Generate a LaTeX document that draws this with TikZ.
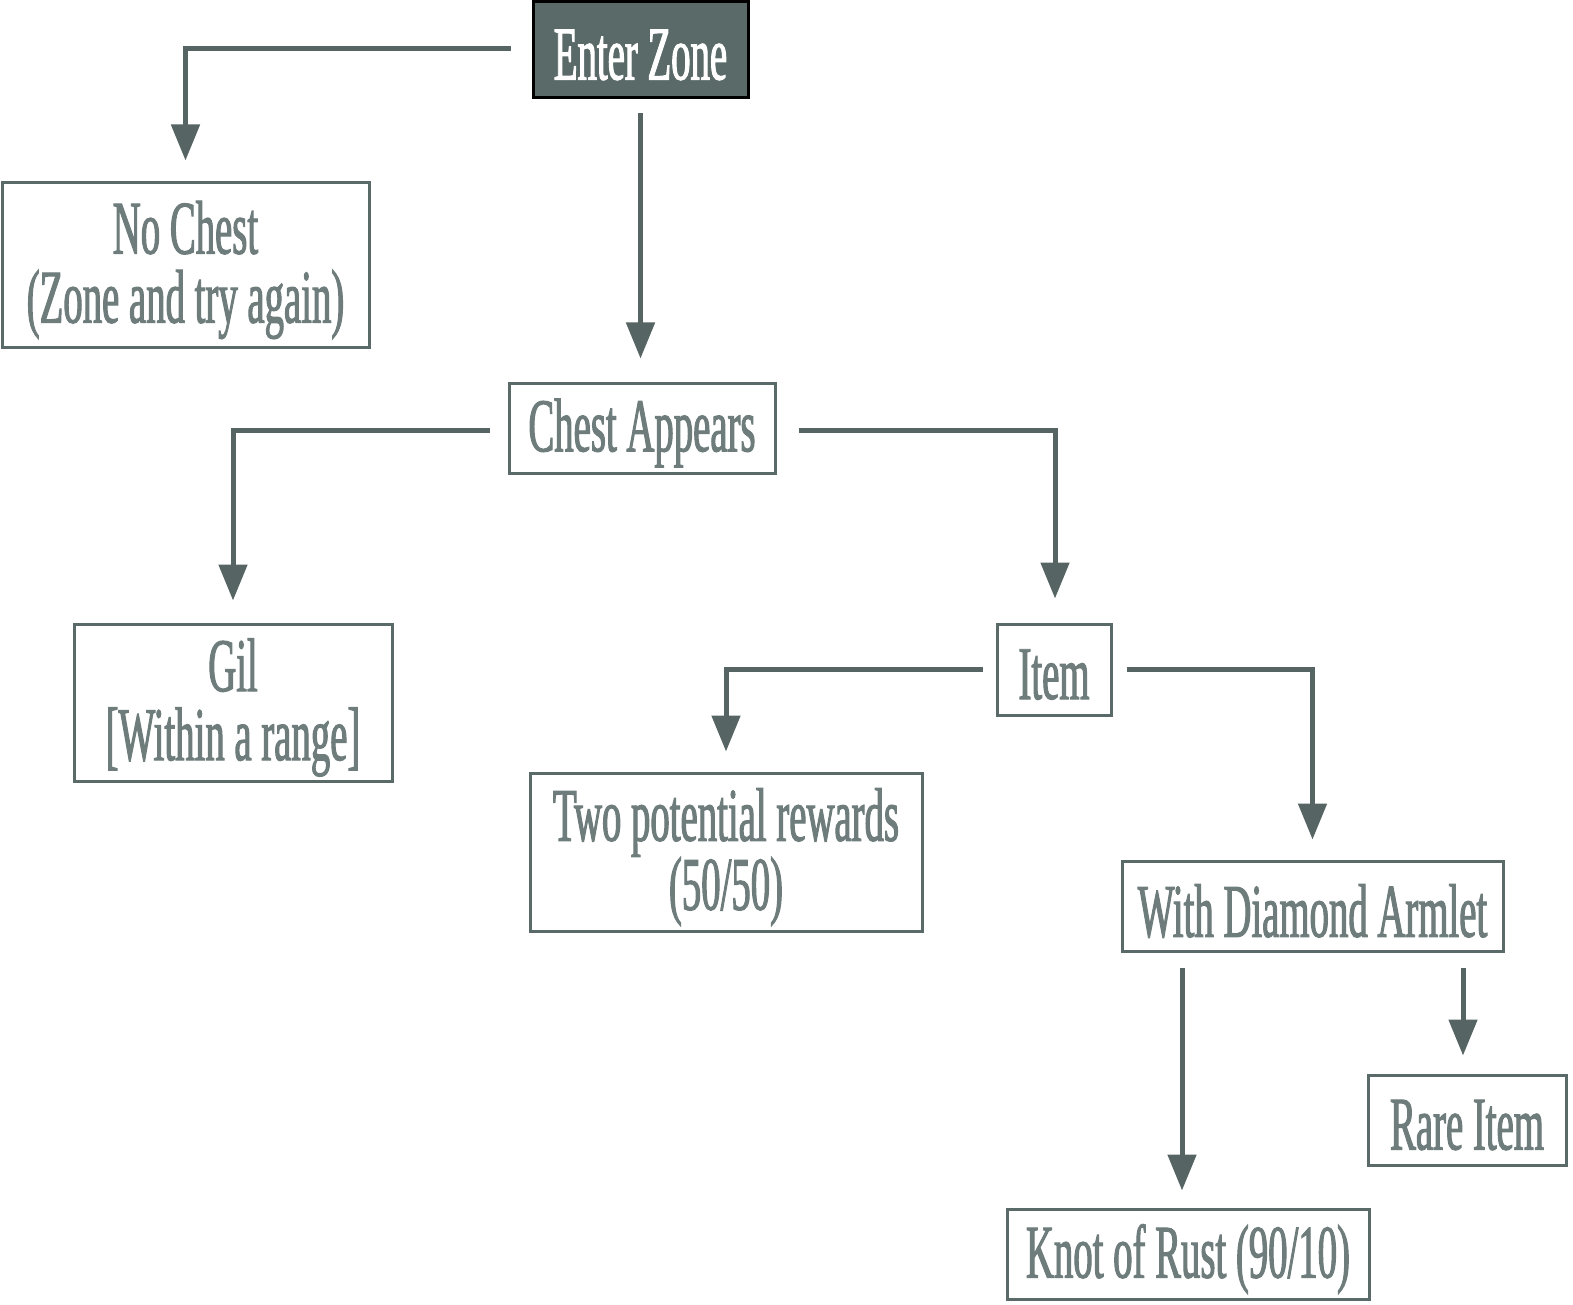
\documentclass[tikz,border=0pt]{standalone}
\usepackage{fontspec}
\setmainfont{Liberation Serif}[FakeStretch=0.51, FakeBold=1.3]
\usetikzlibrary{arrows.meta}
\definecolor{slate}{HTML}{5A6A69}
\definecolor{linec}{HTML}{566463}
\definecolor{txt}{HTML}{6E7C7C}
\tikzset{
  box/.style={draw=slate, line width=3pt, fill=white, inner sep=0pt},
  startbox/.style={draw=black, line width=3pt, fill=slate, inner sep=0pt},
  lbl/.style={text=txt, align=center, inner sep=0pt, font={\fontsize{76}{69}\selectfont}},
  startlbl/.style={lbl, text=white},
  arr/.style={draw=linec, line width=5pt, -{Triangle[width=28pt,length=36pt]}}
}
\begin{document}
\begin{tikzpicture}[x=1pt,y=-1pt]
\useasboundingbox (0,0) rectangle (1573,1305);
\node[startbox, minimum width=215pt, minimum height=96pt] (ez) at (640.5,50) {};
\node[box, minimum width=367pt, minimum height=164pt] (nc) at (185.5,265) {};
\node[box, minimum width=266pt, minimum height=90pt] (ca) at (642,428) {};
\node[box, minimum width=318pt, minimum height=157pt] (gil) at (233,702.5) {};
\node[box, minimum width=114pt, minimum height=91pt] (item) at (1054,669.5) {};
\node[box, minimum width=392pt, minimum height=158pt] (two) at (726,852) {};
\node[box, minimum width=381pt, minimum height=90pt] (wda) at (1312.5,906) {};
\node[box, minimum width=198pt, minimum height=90pt] (rare) at (1467,1120) {};
\node[box, minimum width=362pt, minimum height=90pt] (knot) at (1188,1254) {};

\node[startlbl] (ezt) at ([yshift=-5pt]ez.center) {Enter Zone};
\node[lbl] (nct) at ([yshift=-5pt]nc.center) {No Chest\\(Zone and try again)};
\node[lbl] (cat) at ([yshift=-5pt]ca.center) {Chest Appears};
\node[lbl] (gilt) at ([yshift=-5pt]gil.center) {Gil\\{[}Within a range{]}};
\node[lbl] (itemt) at ([yshift=-5pt]item.center) {Item};
\node[lbl] (twot) at ([yshift=-5pt]two.center) {Two potential rewards\\(50/50)};
\node[lbl] (wdat) at ([yshift=-5pt]wda.center) {With Diamond Armlet};
\node[lbl] (raret) at ([yshift=-5pt]rare.center) {Rare Item};
\node[lbl] (knott) at ([yshift=-5pt]knot.center) {Knot of Rust (90/10)};

\coordinate (wdaL) at ([xshift=-130.5pt]wda.south);
\coordinate (wdaR) at ([xshift=150.5pt]wda.south);

\draw[arr, shorten <=21pt, shorten >=21pt] ([yshift=1pt]ez.west) -| (nc.north);
\draw[arr, shorten <=14pt, shorten >=23pt] (ez.south) -- (ca.north -| ez.south);
\draw[arr, shorten <=18pt, shorten >=22pt] ([yshift=-2pt]ca.west) -| (gil.north);
\draw[arr, shorten <=22pt, shorten >=24pt] ([yshift=-2pt]ca.east) -| ([xshift=1pt]item.north);
\draw[arr, shorten <=13pt, shorten >=20pt] (item.west) -| (two.north);
\draw[arr, shorten <=14pt, shorten >=20pt] (item.east) -| (wda.north);
\draw[arr, shorten <=15pt, shorten >=17pt] (wdaL) -- (knot.north -| wdaL);
\draw[arr, shorten <=15pt, shorten >=18pt] (wdaR) -- (rare.north -| wdaR);
\end{tikzpicture}
\end{document}
